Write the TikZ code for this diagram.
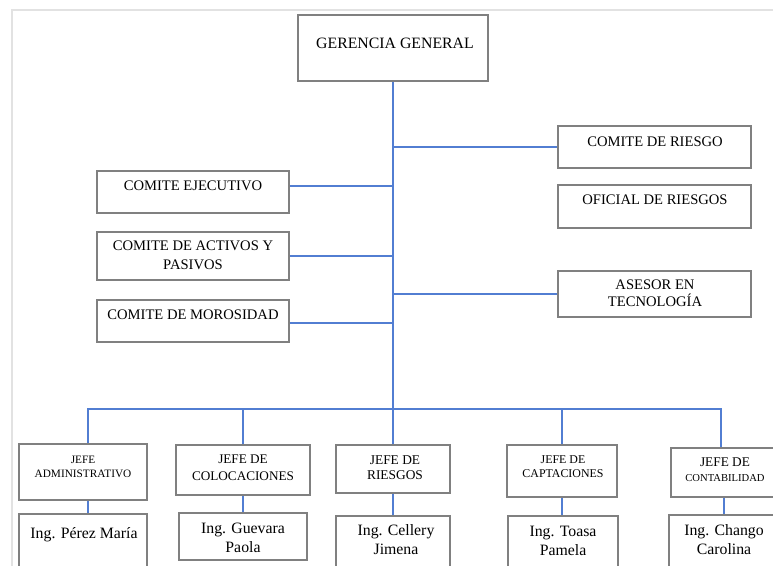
\documentclass[tikz,border=0pt]{standalone}
\usepackage{fontspec}
\setmainfont{Liberation Serif}
\usetikzlibrary{positioning}
\definecolor{azul}{RGB}{82,126,210}
\definecolor{borde}{RGB}{128,128,128}
\definecolor{hoja}{RGB}{226,226,226}
\newcommand{\fs}[2]{\fontsize{#1}{#2}\selectfont}

\begin{document}
\begin{tikzpicture}[x=1pt,y=-1pt]
		\tikzset{
			caja/.style={draw=borde, line width=1.5pt, inner sep=0pt},
			txt/.style={align=center, inner sep=0pt, text=black},
			linea/.style={draw=azul, line width=1.3pt}
		}
		\useasboundingbox (0,0) rectangle (773,565);
		%borde de la hoja
		\draw[hoja, line width=2pt] (12,567) -- (12,10) -- (775,10);
		%cajas
		\node[caja, minimum width=190, minimum height=66] (ger) at (393,48) {};
		\node[caja, minimum width=193, minimum height=42] (cries) at (654.5,147) {};
		\node[caja, minimum width=193, minimum height=43] (ofic) at (654.5,206.5) {};
		\node[caja, minimum width=193, minimum height=46] (ases) at (654.5,294) {};
		\node[caja, minimum width=192, minimum height=42] (ejec) at (193,192) {};
		\node[caja, minimum width=192, minimum height=48] (activ) at (193,256) {};
		\node[caja, minimum width=192, minimum height=42] (moro) at (193,321) {};
		%jefes
		\node[caja, minimum width=128, minimum height=56] (jadm) at (83,472) {};
		\node[caja, minimum width=134, minimum height=50] (jcol) at (243,470) {};
		\node[caja, minimum width=114, minimum height=48] (jrie) at (393,469) {};
		\node[caja, minimum width=110, minimum height=52] (jcap) at (562,471) {};
		\node[caja, minimum width=104, minimum height=49] (jcon) at (723,472.5) {};
		%encargados
		\node[caja, minimum width=128, minimum height=60] (ipe) at (83,544) {};
		\node[caja, minimum width=128, minimum height=47] (igu) at (243,536.5) {};
		\node[caja, minimum width=114, minimum height=60] (ice) at (393,546) {};
		\node[caja, minimum width=110, minimum height=60] (ito) at (563,546) {};
		\node[caja, minimum width=106, minimum height=60] (ich) at (722,545) {};
		%textos
		\node[txt, font=\fs{15.8}{18}] (tger) at (395,43) {GERENCIA GENERAL};
		\node[txt, font=\fs{14.6}{17}] (tcries) at (655,142) {COMITE DE RIESGO};
		\node[txt, font=\fs{14.6}{17}] (tofic) at (655,200) {OFICIAL DE RIESGOS};
		\node[txt, font=\fs{14.6}{17}] (tases) at (655,293.5) {ASESOR EN\\TECNOLOGÍA};
		\node[txt, font=\fs{14.6}{17}] (tejec) at (193,186) {COMITE EJECUTIVO};
		\node[txt, font=\fs{14.6}{19}] (tactiv) at (193,255.5) {COMITE DE ACTIVOS Y\\PASIVOS};
		\node[txt, font=\fs{14.6}{17}] (tmoro) at (193,315) {COMITE DE MOROSIDAD};
		\node[txt, font=\fs{11.3}{14}] (tjadm) at (83,467) {JEFE\\ADMINISTRATIVO};
		\node[txt, font=\fs{13.2}{17}] (tjcol) at (243,467.5) {JEFE DE\\COLOCACIONES};
		\node[txt, font=\fs{13.4}{15}] (tjrie) at (395,467.5) {JEFE DE\\RIESGOS};
		\node[txt, font=\fs{11.9}{14}] (tjcap) at (563,467) {JEFE DE\\CAPTACIONES};
		\node[txt, font=\fs{13.3}{15}] (tjcon) at (725,469.5) {JEFE DE\\{\fs{10.6}{15}CONTABILIDAD}};
		\node[txt, font=\fs{15.8}{19}] (tipe) at (84,535) {Ing. Pérez María};
		\node[txt, font=\fs{15.8}{19}] (tigu) at (243,537.5) {Ing. Guevara\\Paola};
		\node[txt, font=\fs{15.8}{19}] (tice) at (396,539.5) {Ing. Cellery\\Jimena};
		\node[txt, font=\fs{15.8}{19}] (tito) at (563,541) {Ing. Toasa\\Pamela};
		\node[txt, font=\fs{15.8}{19}] (tich) at (724,540) {Ing. Chango\\Carolina};
		%conectores
		\coordinate (bus) at (393,409);
		\draw[linea] (ger.south) -- (bus);
		\draw[linea] (cries.west) -- (cries.west -| ger.south);
		\draw[linea] (ases.west) -- (ases.west -| ger.south);
		\draw[linea] ([yshift=6]ejec.east) -- ([yshift=6]ejec.east -| ger.south);
		\draw[linea] (activ.east) -- (activ.east -| ger.south);
		\draw[linea] ([yshift=-2]moro.east) -- ([yshift=-2]moro.east -| ger.south);
		\draw[linea] ([xshift=5]jadm.north) |- (bus) -| ([xshift=-2]jcon.north);
		\draw[linea] (jcol.north) -- (jcol.north |- bus);
		\draw[linea] (jrie.north) -- (bus);
		\draw[linea] (jcap.north) -- (jcap.north |- bus);
		\draw[linea] ([xshift=5]jadm.south) -- ([xshift=5]ipe.north);
		\draw[linea] (jcol.south) -- (igu.north);
		\draw[linea] (jrie.south) -- (ice.north);
		\draw[linea] (jcap.south) -- (jcap.south |- ito.north);
		\draw[linea] ([xshift=1]jcon.south) -- ([xshift=1]jcon.south |- ich.north);
	\end{tikzpicture}
\end{document}
